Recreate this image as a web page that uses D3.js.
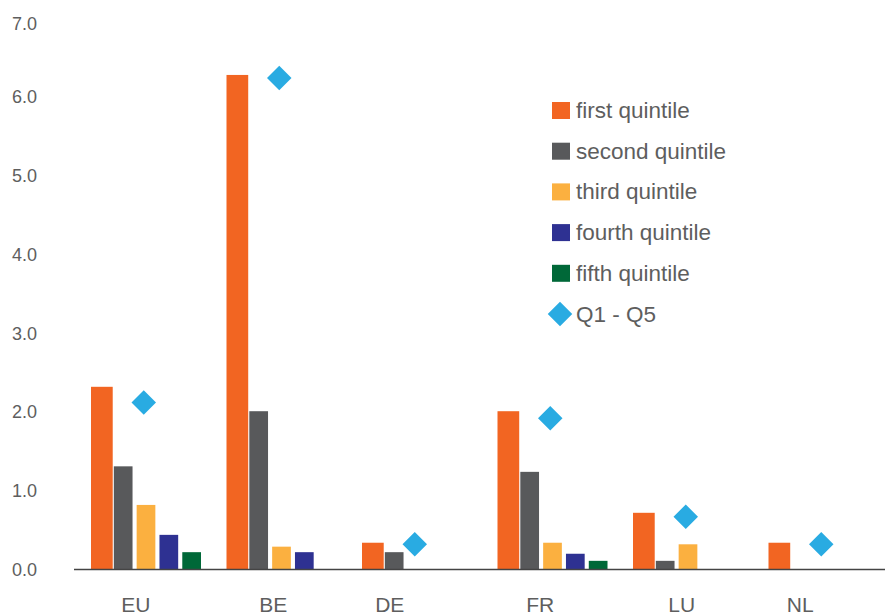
<!DOCTYPE html>
<html>
<head>
<meta charset="utf-8">
<script src="https://cdn.jsdelivr.net/npm/d3@7/dist/d3.min.js"></script>
<style>
  html, body { margin: 0; padding: 0; background: #ffffff; }
  svg { display: block; font-family: "Liberation Sans", Arial, sans-serif; }
</style>
</head>
<body>
<svg id="chart" width="887" height="615"></svg>
<script>
// ---- data ----
const categories = ["EU", "BE", "DE", "FR", "LU", "NL"];
const seriesNames = ["first quintile", "second quintile", "third quintile", "fourth quintile", "fifth quintile"];
const q1 = [2.32, 6.28, 0.34, 2.01, 0.72, 0.34];
const q2 = [1.31, 2.01, 0.22, 1.24, 0.11, null];
const q3 = [0.82, 0.29, null, 0.34, 0.32, null];
const q4 = [0.44, 0.22, null, 0.20, null, null];
const q5 = [0.22, null, null, 0.11, null, null];
const q1q5 = [2.12, 6.24, 0.32, 1.92, 0.67, 0.32];
const diamondName = "Q1 - Q5";
const yTicks = [0, 1, 2, 3, 4, 5, 6, 7];

// ---- styles ----
const colors = ["#F26522", "#58595B", "#FBB040", "#2E3192", "#006838"];
const diamondColor = "#29ABE2";
const textColor = "#5e5e5e";
const labelShift = [-6, -4, -23, -8, -2, -19];

const series = [q1, q2, q3, q4, q5];
const svg = d3.select("#chart");

const x0 = d3.scaleBand().domain(categories).range([74, 887]).padding(0);
const x1 = d3.scaleBand().domain(d3.range(5)).range([17, 127]).paddingInner(0.18).paddingOuter(0);
const y = d3.scaleLinear().domain([0, 7]).range([569.5, 18.25]);

// bars
series.forEach((vals, s) => {
  const g = svg.append("g");
  g.selectAll("rect")
    .data(categories.map((c, i) => ({ c, v: vals[i] })).filter(d => d.v != null))
    .join("rect")
    .attr("x", d => x0(d.c) + x1(s))
    .attr("width", s === 0 ? x1.bandwidth() + 3 : x1.bandwidth())
    .attr("y", d => y(d.v))
    .attr("height", d => y(0) - y(d.v))
    .attr("fill", colors[s]);
});

// baseline
svg.append("line")
  .attr("x1", 74).attr("x2", 885)
  .attr("y1", y(0)).attr("y2", y(0))
  .attr("stroke", "#444").attr("stroke-width", 1.4);

// diamonds
const dsym = d3.symbol().type(d3.symbolSquare).size(300);
svg.append("g").selectAll("path")
  .data(categories.map((c, i) => ({ c, v: q1q5[i] })))
  .join("path")
  .attr("d", dsym)
  .attr("transform", d => `translate(${x0(d.c) + x0.bandwidth() / 2 + 2},${y(d.v)}) rotate(45)`)
  .attr("fill", diamondColor);

// y axis labels
svg.append("g").selectAll("text")
  .data(yTicks)
  .join("text")
  .attr("x", 37)
  .attr("y", d => y(d) + (d === 7 ? 5 : 0))
  .attr("dy", "0.36em")
  .attr("text-anchor", "end")
  .attr("font-size", 18)
  .attr("fill", textColor)
  .text(d => d3.format(".1f")(d));

// x axis labels
svg.append("g").selectAll("text")
  .data(categories)
  .join("text")
  .attr("x", (d, i) => x0(d) + x0.bandwidth() / 2 + labelShift[i])
  .attr("y", 612)
  .attr("text-anchor", "middle")
  .attr("font-size", 21)
  .attr("fill", textColor)
  .text(d => d);

// legend
const legend = svg.append("g");
const legendItems = seriesNames.map((n, i) => ({ n, c: colors[i], diamond: false }))
  .concat([{ n: diamondName, c: diamondColor, diamond: true }]);
const ly = d3.scaleLinear().domain([0, 5]).range([110.5, 314]);
legendItems.forEach((it, i) => {
  const cy = ly(i);
  if (it.diamond) {
    legend.append("path")
      .attr("d", dsym)
      .attr("transform", `translate(560,${cy}) rotate(45)`)
      .attr("fill", it.c);
  } else {
    legend.append("rect")
      .attr("x", 552).attr("y", cy - 8.5)
      .attr("width", 18).attr("height", 17)
      .attr("fill", it.c);
  }
  legend.append("text")
    .attr("x", 576).attr("y", cy + 7.5)
    .attr("font-size", 22.5)
    .attr("fill", textColor)
    .text(it.n);
});
</script>
</body>
</html>
